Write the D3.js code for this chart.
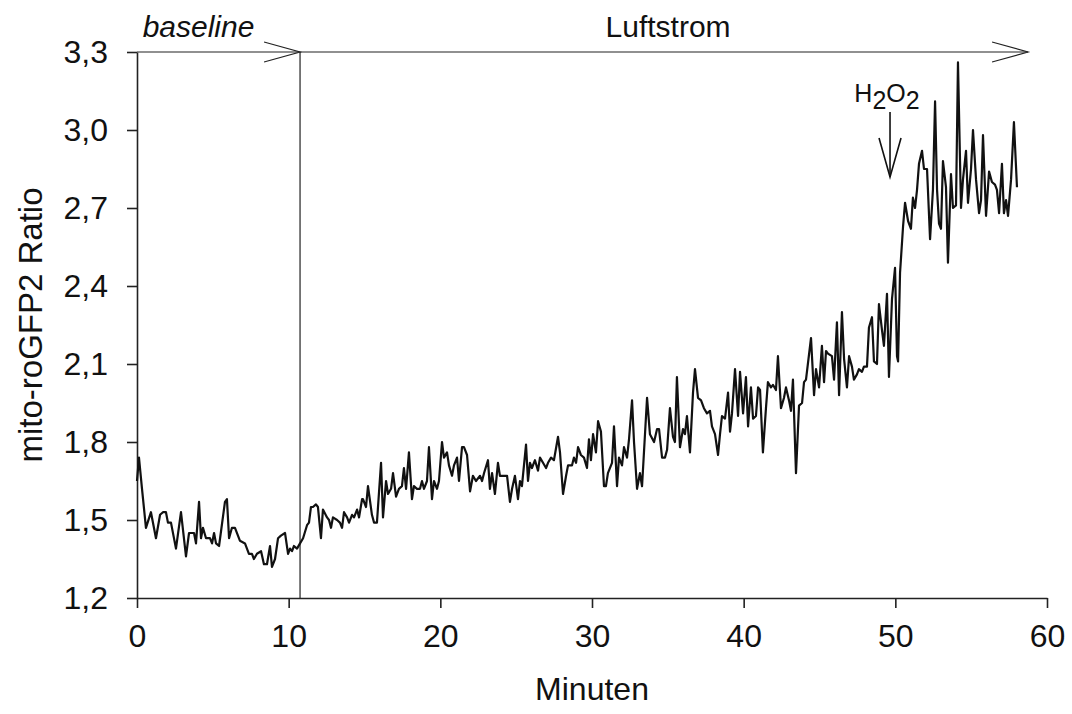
<!DOCTYPE html>
<html lang="de">
<head>
    <meta charset="UTF-8">
    <title>mito-roGFP2 Ratio</title>
    <style>
        body {
            margin: 0;
            padding: 0;
            background-color: #fff;
        }

        svg text {
            font-family: 'Liberation Sans', Arial, sans-serif;
            fill: #111;
        }

        .axis path,
        .axis line {
            stroke: #222;
            stroke-width: 1.6px;
        }

        .axis text {
            font-size: 32px;
        }
    </style>
</head>
<body>
    <div id="chart"></div>

    <script src="https://d3js.org/d3.v7.min.js"></script>
    <script>
        // Minuten
        const times = [
            0, 0.13, 0.33, 0.59, 0.92, 1.25, 1.52, 1.71, 1.91, 2.04, 2.24, 2.57, 2.90, 3.23, 3.43, 3.76, 3.89,
            4.09, 4.22, 4.35, 4.55, 4.81, 4.95, 5.08, 5.21, 5.41, 5.80, 5.93, 6.07, 6.26, 6.46, 6.79, 7.12, 7.38,
            7.58, 7.71, 7.91, 8.18, 8.37, 8.57, 8.77, 8.90, 9.10, 9.30, 9.49, 9.76, 9.96, 10.09, 10.22, 10.35,
            10.55, 10.75, 10.95, 11.21, 11.34, 11.47, 11.60, 11.80, 11.93, 12.13, 12.26, 12.53, 12.66, 12.79,
            12.92, 13.19, 13.38, 13.52, 13.65, 13.85, 13.98, 14.18, 14.31, 14.51, 14.64, 14.84,
            14.90, 15.10, 15.23, 15.49, 15.63, 15.82, 16.09, 16.22, 16.42, 16.55, 16.75, 16.88, 17.08, 17.27,
            17.47, 17.60, 17.74, 17.93, 18.13, 18.26, 18.46, 18.66, 18.79, 18.92, 19.12, 19.25, 19.45, 19.58,
            19.78, 19.91, 20.11, 20.24, 20.44, 20.57, 20.77, 20.90, 21.10, 21.23, 21.43, 21.56, 21.76, 21.96,
            22.15, 22.35,
            22.62, 22.75, 22.88, 23.14, 23.27, 23.41, 23.60, 23.80, 23.93, 24.20, 24.40, 24.59, 24.73, 24.92,
            25.12, 25.25, 25.38, 25.65, 25.78, 25.91, 26.04, 26.24, 26.44, 26.57, 26.77, 26.97, 27.10, 27.30,
            27.49, 27.76, 27.89, 28.09, 28.29, 28.42, 28.68, 28.81, 28.95, 29.08, 29.27, 29.47, 29.67, 29.80,
            29.93, 30.07,
            30.26, 30.40, 30.59, 30.79, 30.92, 31.05, 31.32, 31.45, 31.65, 31.78, 31.98, 32.11, 32.31, 32.44,
            32.64, 32.77, 32.97, 33.16, 33.30, 33.63, 33.82, 34.09, 34.29, 34.42, 34.62, 34.81, 34.95, 35.14,
            35.34, 35.47, 35.60, 35.80, 36.00, 36.13, 36.26, 36.46, 36.66, 36.79, 36.99, 37.19, 37.38, 37.58,
            37.78,
            37.91, 38.11, 38.31, 38.44, 38.57, 38.77, 38.97, 39.10, 39.23, 39.43, 39.63, 39.76, 39.96, 40.15,
            40.29, 40.48, 40.62, 40.81, 40.95, 41.08, 41.27, 41.47, 41.60, 41.80, 41.93, 42.13, 42.26, 42.46,
            42.66, 42.79, 42.99, 43.12, 43.25, 43.45, 43.65, 43.85, 43.98, 44.11, 44.44, 44.64, 44.77, 44.97,
            45.16, 45.30,
            45.43, 45.56, 45.82, 45.96, 46.15, 46.29, 46.48, 46.62, 46.81, 46.95, 47.14, 47.27, 47.47, 47.60,
            47.80, 47.93, 48.13, 48.26, 48.46, 48.59, 48.79, 48.92, 49.12, 49.25, 49.45, 49.58, 49.78, 49.98,
            50.11, 50.18, 50.31, 50.51, 50.64,
            50.84, 51.03, 51.16, 51.30, 51.43, 51.56, 51.76, 51.89, 52.09, 52.29, 52.48, 52.62, 52.75, 52.88,
            53.01, 53.14, 53.34, 53.47, 53.67, 53.80, 54.00, 54.13, 54.33, 54.46, 54.66, 54.79, 54.99, 55.12,
            55.32, 55.52, 55.65, 55.78, 55.98, 56.18, 56.37, 56.57, 56.70, 56.84, 57.03, 57.16, 57.30, 57.43,
            57.63, 57.82, 58.02
        ];

        // mito-roGFP2 Ratio
        const ratios = [
            1.65, 1.74, 1.62, 1.47, 1.53, 1.43, 1.52, 1.53, 1.53, 1.49, 1.49, 1.39, 1.53, 1.36, 1.45, 1.45, 1.41,
            1.57, 1.43, 1.47, 1.43, 1.43, 1.41, 1.45, 1.41, 1.40, 1.57, 1.58, 1.43, 1.47, 1.47, 1.42, 1.41, 1.37,
            1.37, 1.35, 1.37, 1.38, 1.33, 1.33, 1.40, 1.32, 1.35, 1.43, 1.44, 1.45, 1.37, 1.39, 1.38, 1.40,
            1.39, 1.41, 1.43, 1.48, 1.49, 1.55, 1.55, 1.56, 1.55, 1.43, 1.54, 1.51, 1.50, 1.47,
            1.51, 1.50, 1.49, 1.47, 1.53, 1.51, 1.49, 1.52, 1.51, 1.54, 1.51, 1.58,
            1.58, 1.55, 1.63, 1.52, 1.49, 1.49, 1.72, 1.51, 1.65, 1.60, 1.62, 1.68, 1.59, 1.62,
            1.63, 1.70, 1.62, 1.76, 1.58, 1.63, 1.62, 1.62, 1.65, 1.62, 1.65, 1.78, 1.58, 1.65,
            1.62, 1.65, 1.80, 1.74, 1.76, 1.71, 1.67, 1.71, 1.74, 1.65, 1.78, 1.78, 1.75, 1.61,
            1.67, 1.65,
            1.67, 1.65, 1.68, 1.73, 1.62, 1.68, 1.60, 1.72, 1.67, 1.67, 1.67, 1.57, 1.62, 1.67,
            1.58, 1.65, 1.63, 1.79, 1.65, 1.72, 1.70, 1.73, 1.69, 1.74, 1.72, 1.70, 1.72, 1.74,
            1.73, 1.82, 1.76, 1.60, 1.67, 1.71, 1.71, 1.74, 1.72, 1.78, 1.75, 1.74, 1.70, 1.81,
            1.73, 1.83,
            1.76, 1.88, 1.84, 1.63, 1.63, 1.68, 1.72, 1.86, 1.63, 1.74, 1.71, 1.78, 1.74, 1.81,
            1.96, 1.80, 1.62, 1.68, 1.63, 1.97, 1.83, 1.80, 1.85, 1.85, 1.74, 1.74, 1.77, 1.93,
            1.82, 1.80, 2.05, 1.78, 1.85, 1.83, 1.90, 1.76, 1.99, 2.08, 1.97, 1.96, 1.93, 1.91,
            1.92,
            1.86, 1.83, 1.75, 1.83, 1.90, 1.89, 1.99, 1.84, 1.91, 2.08, 1.90, 2.07, 1.91, 2.05,
            1.86, 2.01, 1.89, 1.90, 2.01, 2.00, 1.76, 1.93, 2.03, 2.01, 2.02, 2.00, 2.13, 1.93,
            1.97, 2.01, 1.96, 1.92, 2.04, 1.68, 1.94, 1.95, 2.03, 2.04, 2.20, 1.98, 2.08, 2.01,
            2.17, 2.03,
            2.15, 2.14, 2.13, 2.04, 2.26, 1.98, 2.30, 2.12, 2.01, 2.13, 2.09, 2.04, 2.06, 2.08,
            2.07, 2.09, 2.09, 2.24, 2.28, 2.11, 2.10, 2.33, 2.23, 2.17, 2.37, 2.05, 2.35, 2.47,
            2.13, 2.11, 2.45, 2.63, 2.72,
            2.65, 2.62, 2.74, 2.70, 2.77, 2.87, 2.92, 2.85, 2.85, 2.58, 2.77, 3.11, 2.77, 2.64,
            2.62, 2.88, 2.78, 2.49, 2.83, 2.70, 2.71, 3.26, 2.70, 2.81, 2.92, 2.72, 2.85, 3.00,
            2.81, 2.68, 2.73, 2.98, 2.67, 2.84, 2.80, 2.79, 2.77, 2.68, 2.87, 2.68, 2.73, 2.67,
            2.81, 3.03, 2.78
        ];

        const xTicks = [0, 10, 20, 30, 40, 50, 60];
        const yTicks = [1.2, 1.5, 1.8, 2.1, 2.4, 2.7, 3.0, 3.3];

        // annotation positions (minutes)
        const baselineEnd = 10.75;
        const airflowEnd = 58.75;
        const h2o2Time = 49.65;

        const width = 1072;
        const height = 714;
        const margin = { top: 52, right: 25, bottom: 116, left: 137 };

        const svg = d3.select("#chart").append("svg")
            .attr("width", width)
            .attr("height", height);

        const x = d3.scaleLinear()
            .domain([0, 60])
            .range([margin.left, width - margin.right]);

        const y = d3.scaleLinear()
            .domain([1.2, 3.3])
            .range([height - margin.bottom, margin.top]);

        const comma = v => d3.format(".1f")(v).replace(".", ",");

        // axes
        svg.append("g")
            .attr("class", "axis")
            .attr("transform", `translate(0,${y(1.2)})`)
            .call(d3.axisBottom(x).tickValues(xTicks).tickSize(10).tickSizeOuter(0).tickPadding(16))
            .selectAll("text").attr("fill", "#111");

        svg.append("g")
            .attr("class", "axis")
            .attr("transform", `translate(${x(0)},0)`)
            .call(d3.axisLeft(y).tickValues(yTicks).tickFormat(comma).tickSize(10).tickSizeOuter(0).tickPadding(19))
            .selectAll("text").attr("fill", "#111");

        // axis titles
        svg.append("text")
            .attr("x", (x(0) + x(60)) / 2)
            .attr("y", 700)
            .attr("text-anchor", "middle")
            .style("font-size", "32px")
            .text("Minuten");

        svg.append("text")
            .attr("transform", `translate(42,${(y(1.2) + y(3.3)) / 2}) rotate(-90)`)
            .attr("text-anchor", "middle")
            .style("font-size", "33px")
            .text("mito-roGFP2 Ratio");

        // baseline / Luftstrom markers
        const thin = { stroke: "#222", width: 1.2 };

        svg.append("line")
            .attr("x1", x(baselineEnd)).attr("x2", x(baselineEnd))
            .attr("y1", y(3.3)).attr("y2", y(1.2))
            .attr("stroke", thin.stroke).attr("stroke-width", thin.width);

        svg.append("line")
            .attr("x1", x(0)).attr("x2", x(airflowEnd))
            .attr("y1", y(3.3)).attr("y2", y(3.3))
            .attr("stroke", thin.stroke).attr("stroke-width", thin.width);

        const arrowHead = (tx, ty, dx, dy) => `M${tx - dx},${ty - dy}L${tx},${ty}L${tx - dx},${ty + dy}`;

        [baselineEnd, airflowEnd].forEach(t => {
            svg.append("path")
                .attr("d", arrowHead(x(t), y(3.3), 36, 10))
                .attr("fill", "none")
                .attr("stroke", thin.stroke)
                .attr("stroke-width", thin.width);
        });

        svg.append("text")
            .attr("x", x(baselineEnd / 2) - 20)
            .attr("y", 37)
            .attr("text-anchor", "middle")
            .style("font-size", "30px")
            .style("font-style", "italic")
            .text("baseline");

        svg.append("text")
            .attr("x", (x(baselineEnd) + x(airflowEnd)) / 2 + 4)
            .attr("y", 37)
            .attr("text-anchor", "middle")
            .style("font-size", "30px")
            .text("Luftstrom");

        // H2O2 arrow
        const h2o2 = svg.append("text")
            .attr("x", x(h2o2Time) - 3)
            .attr("y", 102)
            .attr("text-anchor", "middle")
            .style("font-size", "25px");
        h2o2.append("tspan").text("H");
        h2o2.append("tspan").attr("dy", 7).text("2");
        h2o2.append("tspan").attr("dy", -7).text("O");
        h2o2.append("tspan").attr("dy", 7).text("2");

        svg.append("line")
            .attr("x1", x(h2o2Time)).attr("x2", x(h2o2Time))
            .attr("y1", 112).attr("y2", 177)
            .attr("stroke", "#111").attr("stroke-width", 1.6);

        svg.append("path")
            .attr("d", `M${x(h2o2Time) - 11},138L${x(h2o2Time)},177L${x(h2o2Time) + 11},138`)
            .attr("fill", "none")
            .attr("stroke", "#111")
            .attr("stroke-width", 1.6);

        // series
        const points = times.map((t, i) => [t, ratios[i]]);

        const line = d3.line()
            .x(d => x(d[0]))
            .y(d => y(d[1]));

        svg.append("path")
            .datum(points)
            .attr("fill", "none")
            .attr("stroke", "#111")
            .attr("stroke-width", 2.2)
            .attr("stroke-linejoin", "round")
            .attr("d", line);
    </script>
</body>
</html>
